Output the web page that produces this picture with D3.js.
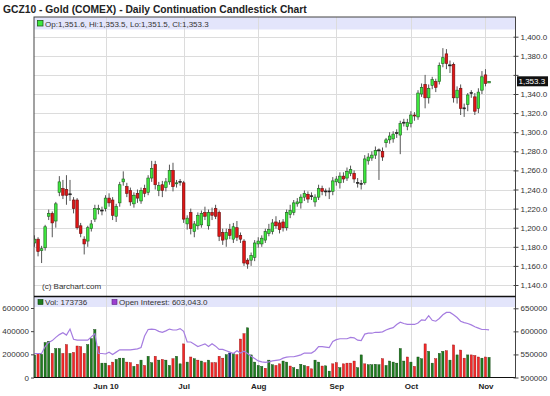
<!DOCTYPE html>
<html>
<head>
<meta charset="utf-8">
<script src="https://cdn.jsdelivr.net/npm/d3@7"></script>
<style>
  body { margin: 0; background: #fff; }
  svg { display: block; font-family: "Liberation Sans", Arial, sans-serif; }
</style>
</head>
<body>
<svg width="550" height="396"></svg>
<script>
// daily bars, May 3 .. Nov 2 2010 (index = trading day)
const opens = [1184,1188,1176,1179,1212,1215,1207,1237,1241,1240,
  1235,1229,1229,1202,1188,1186,1199,1209,1219,1218,
  1220,1231,1229,1212,1226,1248,1243,1239,1225,1236,
  1228,1241,1237,1252,1266,1239,1245,1242,1248,1260,
  1246,1248,1247,1204,1216,1196,1202,1203,1216,1202,
  1216,1220,1216,1195,1188,1198,1188,1200,1192,1186,
  1166,1166,1169,1183,1183,1187,1194,1196,1206,1205,
  1206,1200,1214,1216,1225,1226,1232,1235,1233,1227,
  1232,1241,1238,1238,1238,1248,1247,1254,1252,1257,
  1257,1247,1246,1247,1270,1273,1276,1281,1280,1289,
  1292,1293,1299,1297,1310,1306,1309,1318,1316,1340,
  1350,1336,1349,1353,1353,1372,1382,1370,1371,1336,
  1346,1325,1329,1341,1337,1325,1344,1360,1351.6];
const highs = [1192,1190,1181,1203,1219,1217,1227,1254,1250,1255,
  1250,1232,1231,1205,1191,1202,1208,1224,1224,1222,
  1234,1236,1232,1225,1248,1259,1247,1242,1237,1240,
  1242,1245,1255,1270,1270,1248,1249,1252,1266,1268,
  1250,1251,1249,1213,1220,1207,1216,1218,1222,1219,
  1221,1224,1218,1199,1199,1204,1205,1207,1195,1188,
  1168,1174,1187,1190,1192,1199,1204,1209,1212,1208,
  1209,1219,1224,1229,1231,1235,1239,1238,1237,1235,
  1245,1244,1241,1242,1253,1254,1258,1258,1263,1265,
  1260,1252,1250,1276,1278,1280,1285,1283,1284,1294,
  1300,1301,1303,1312,1314,1314,1322,1321,1344,1351,
  1360,1350,1358,1356,1373,1388,1387,1375,1373,1348,
  1350,1330,1341,1344,1341,1346,1364,1366,1353.5];
const lows = [1180,1170,1163,1176,1208,1190,1200,1233,1230,1224,
  1228,1215,1198,1190,1172,1180,1196,1206,1214,1213,
  1217,1222,1208,1206,1222,1244,1232,1223,1221,1226,
  1225,1232,1234,1248,1240,1233,1232,1238,1245,1238,
  1242,1244,1205,1198,1193,1190,1198,1200,1208,1198,
  1208,1209,1186,1182,1180,1188,1184,1186,1184,1160,
  1157,1160,1165,1179,1180,1184,1191,1193,1199,1194,
  1196,1197,1210,1213,1222,1220,1228,1226,1229,1222,
  1229,1234,1233,1230,1234,1244,1241,1247,1249,1254,
  1247,1242,1240,1245,1266,1270,1272,1250,1270,1284,
  1288,1289,1294,1277,1306,1302,1305,1312,1313,1337,
  1325,1330,1345,1342,1350,1368,1366,1362,1331,1330,
  1318,1316,1322,1336,1318,1320,1340,1348,1351.5];
const closes = [1188,1175,1178,1201,1215,1205,1225,1248,1234,1234,
  1235.5,1220,1200,1194,1183,1200,1204,1220,1220,1218.5,
  1231,1226,1213,1222,1245,1251,1236,1227,1234,1231,
  1239,1236,1252,1262,1245,1244,1239,1248,1260,1243,
  1247,1248.5,1209,1210,1199,1204,1213,1215,1212,1216,
  1213,1212,1191,1187,1195,1192,1201,1190,1188,1163,
  1162,1171,1184,1186,1189,1196,1198,1205,1202,1198,
  1200,1216,1218,1226,1227,1232,1236,1230,1233.5,1232,
  1241,1238,1238.5,1238.5,1249,1251,1254,1251,1259,1261,
  1251,1247.5,1246.5,1272,1274,1276,1281,1281.5,1274,1292,
  1296,1298,1299.5,1309,1310.5,1310,1318,1317,1341,1347,
  1336,1346,1355,1347,1370,1378,1372,1370.5,1336,1344,
  1325,1325.5,1339,1341.5,1322,1342,1358,1351,1353.3];

// volume and open interest, thousands of contracts
const volumesK = [195,206,200,302,313,208,250,250,208,284,
  208,217,272,267,208,284,336,414,267,124,
  124,104,133,156,167,167,133,128,96,114,
  150,104,183,128,183,150,156,150,104,162,
  183,118,290,133,177,162,150,142,128,150,
  128,128,183,167,197,211,205,197,332,378,
  429,195,133,104,96,80,150,110,104,118,
  142,133,99,85,71,114,104,96,75,150,
  133,99,101,55,118,128,85,118,124,124,
  142,85,195,118,110,110,114,110,162,104,
  142,133,124,250,142,177,133,96,177,162,
  290,226,124,162,208,226,231,150,281,195,
  237,167,195,195,190,177,167,177,173.736];
const volColors = ("grgggrggrr" + "grrrrgggrg" + "grrgggrrgr" + "grggrgrggr" +
  "ggrgrgrgrg" + "rrrrgbgrrr" + "gggggrgg" + "rrggrggggr" + "rggrggrrgr" +
  "rrrggrgggg" + "rggggggrgr" + "ggrggrggrg" + "rgrrgrrrgr" + "g").split("");
const openInterestK = [552,552,552,567,576,580,587,593,597,592,
  605,583,581,581,581,581,588,595,552,552,
  551,555,550,555,560,560,560,560,561,562,
  565,590,604,605,604,600,598,601,605,603,
  603,606,600,577,577,572,567,570,573,567,
  573,568,561,561,558,555,552,558,553,557,
  552,546,541,536,534,533,534,536,537,538,
  542,544,545,545,547,549,553,553,553,558,
  567,567,566,565,578,582,584,584,584,587,
  586,581,580,594,596,596,598,598,599,603,
  606,608,615,620,617,615,615,615,618,625,
  624,634,624,622,628,636,641,641,636,630,
  622,619,617,614,610,607,604,604,603.043];

const monthIdx = [20, 42, 63, 85, 106, 127];
const monthLabels = ["Jun 10", "Jul", "Aug", "Sep", "Oct", "Nov"];
const priceTicks = [1140,1160,1180,1200,1220,1240,1260,1280,1300,1320,1340,1360,1380,1400];
const volTicks = [0, 200, 400, 600];
const oiTicks = [500, 550, 600, 650];

const bars = opens.map((o, i) => ({ i, o, h: highs[i], l: lows[i], c: closes[i] }));

// layout
const left = 34, right = 515.5;
const top1 = 17, bot1 = 296.5, bot2 = 377.5;

const svg = d3.select('svg');

const x = d3.scaleLinear().domain([-0.14, 135.45]).range([left, right]);
const yP = d3.scaleLinear().domain([1140, 1400]).range([285, 36.7]);
const yV = d3.scaleLinear().domain([0, 600]).range([bot2, 308]);
const yOI = d3.scaleLinear().domain([500, 650]).range([bot2, 308.3]);

const defs = svg.append('defs');
defs.append('clipPath').attr('id', 'clipTop')
  .append('rect').attr('x', left).attr('y', top1).attr('width', right - left).attr('height', bot1 - top1);
defs.append('clipPath').attr('id', 'clipBot')
  .append('rect').attr('x', left).attr('y', bot1).attr('width', right - left).attr('height', bot2 - bot1);

// title
svg.append('text').attr('x', 3).attr('y', 13)
  .style('font-size', '10.3px').style('font-weight', 'bold').attr('fill', '#222')
  .text('GCZ10 - Gold (COMEX) - Daily Continuation Candlestick Chart');

// legend bands
svg.append('rect').attr('x', left).attr('y', top1).attr('width', right - left).attr('height', 12.5)
  .attr('fill', '#e3e5fb');
svg.append('rect').attr('x', left).attr('y', bot1 + 0.5).attr('width', right - left).attr('height', 10)
  .attr('fill', '#e3e5fb');

// grid
const grid = svg.append('g').attr('stroke', '#dcdcdc').attr('stroke-width', 1);
grid.selectAll('line.h').data(priceTicks).enter().append('line')
  .attr('x1', left).attr('x2', right)
  .attr('y1', d => Math.round(yP(d)) + 0.5).attr('y2', d => Math.round(yP(d)) + 0.5);
grid.selectAll('line.v').data(monthIdx).enter().append('line')
  .attr('x1', d => Math.round(x(d)) + 0.5).attr('x2', d => Math.round(x(d)) + 0.5)
  .attr('y1', top1).attr('y2', bot2);

// candles
const cg = svg.append('g').attr('clip-path', 'url(#clipTop)');
cg.selectAll('line.wick').data(bars).enter().append('line')
  .attr('x1', d => x(d.i)).attr('x2', d => x(d.i))
  .attr('y1', d => yP(d.h)).attr('y2', d => yP(d.l))
  .attr('stroke', '#555').attr('stroke-width', 1);
cg.selectAll('rect.body').data(bars).enter().append('rect')
  .attr('x', d => x(d.i) - 1.3)
  .attr('width', 2.6)
  .attr('y', d => yP(Math.max(d.o, d.c)))
  .attr('height', d => Math.max(1, Math.abs(yP(d.o) - yP(d.c))))
  .attr('fill', d => Math.abs(d.c - d.o) < 1 ? '#222' : (d.c > d.o ? '#3de83d' : '#e01515'))
  .attr('stroke', d => Math.abs(d.c - d.o) < 1 ? '#222' : (d.c > d.o ? '#1e5e1e' : '#6a0c0c'))
  .attr('stroke-width', 0.6);

// volume bars + open interest
const vg = svg.append('g').attr('clip-path', 'url(#clipBot)');
const volFill = { g: '#1f7d1f', r: '#f52828', b: '#1c2f8c' };
const volStroke = { g: '#0d3d0d', r: '#8a1212', b: '#0c1550' };
vg.selectAll('rect.vol').data(volumesK).enter().append('rect')
  .attr('x', (d, i) => x(i) - 1.1)
  .attr('width', 2.2)
  .attr('y', d => yV(d))
  .attr('height', d => bot2 - yV(d))
  .attr('fill', (d, i) => volFill[volColors[i]])
  .attr('stroke', (d, i) => volStroke[volColors[i]])
  .attr('stroke-width', 0.4);
vg.append('path').datum(openInterestK)
  .attr('d', d3.line().x((d, i) => x(i)).y(d => yOI(d)))
  .attr('fill', 'none').attr('stroke', '#a57ce0').attr('stroke-width', 1.2);

// frames
svg.append('rect').attr('x', left).attr('y', top1).attr('width', right - left).attr('height', bot2 - top1)
  .attr('fill', 'none').attr('stroke', '#444').attr('stroke-width', 1);
svg.append('line').attr('x1', left).attr('x2', right).attr('y1', bot1).attr('y2', bot1)
  .attr('stroke', '#111').attr('stroke-width', 1.6);
svg.append('line').attr('x1', left).attr('x2', right).attr('y1', bot2).attr('y2', bot2)
  .attr('stroke', '#111').attr('stroke-width', 1.2);

// axes
function styleAxis(g) {
  g.select('.domain').remove();
  g.selectAll('.tick line').attr('stroke', '#444');
  g.selectAll('.tick text').attr('fill', '#333').style('font-size', '8px')
    .style('font-family', '"Liberation Sans", Arial, sans-serif');
}
const lastClose = closes[closes.length - 1];

svg.append('g').attr('transform', `translate(${right},0)`)
  .call(d3.axisRight(yP).tickValues(priceTicks).tickFormat(d3.format(',.1f')).tickSize(3).tickPadding(2))
  .call(styleAxis)
  .call(g => g.selectAll('.tick line').attr('x1', -2))
  // the last-price box covers the label next to it
  .call(g => g.selectAll('.tick text').filter(d => Math.abs(yP(d) - yP(lastClose)) < 9).remove());

svg.append('g').attr('transform', `translate(${left},0)`)
  .call(d3.axisLeft(yV).tickValues(volTicks).tickFormat(d => d3.format('d')(d * 1000)).tickSize(3).tickPadding(2))
  .call(styleAxis);
svg.append('g').attr('transform', `translate(${right},0)`)
  .call(d3.axisRight(yOI).tickValues(oiTicks).tickFormat(d => d3.format('d')(d * 1000)).tickSize(3).tickPadding(2))
  .call(styleAxis)
  .call(g => g.selectAll('.tick line').attr('x1', -2));

svg.append('g').attr('transform', `translate(0,${bot2})`)
  .call(d3.axisBottom(x).tickValues(monthIdx).tickFormat((d, i) => monthLabels[i]).tickSize(0).tickPadding(6))
  .call(styleAxis)
  .call(g => g.selectAll('.tick text').style('font-weight', 'bold').attr('fill', '#222'));

// last price marker
svg.append('rect').attr('x', right + 1.5).attr('y', yP(lastClose) - 5).attr('width', 31).attr('height', 10)
  .attr('fill', '#111');
svg.append('text').attr('x', right + 3).attr('y', yP(lastClose) + 3)
  .style('font-size', '8px').attr('fill', '#fff').text(d3.format(',.1f')(lastClose));

// legends
svg.append('rect').attr('x', 37.5).attr('y', 20.5).attr('width', 5.5).attr('height', 5.5)
  .attr('fill', '#3de83d').attr('stroke', '#1e5e1e').attr('stroke-width', 0.8);
svg.append('text').attr('x', 45).attr('y', 26.5).style('font-size', '8px').attr('fill', '#333')
  .text(`Op:${d3.format(',.1f')(opens[128])}, Hi:${d3.format(',.1f')(highs[128])}, Lo:${d3.format(',.1f')(lows[128])}, Cl:${d3.format(',.1f')(lastClose)}`);

svg.append('rect').attr('x', 38).attr('y', 299.5).attr('width', 5).attr('height', 5)
  .attr('fill', '#1f7d1f').attr('stroke', '#0d3d0d').attr('stroke-width', 0.6);
svg.append('text').attr('x', 45).attr('y', 305.3).style('font-size', '8px').attr('fill', '#333')
  .text(`Vol: ${Math.round(volumesK[128] * 1000)}`);
svg.append('rect').attr('x', 112).attr('y', 299.5).attr('width', 5).attr('height', 5)
  .attr('fill', '#9b3fd0').attr('stroke', '#5a1f80').attr('stroke-width', 0.6);
svg.append('text').attr('x', 119).attr('y', 305.3).style('font-size', '8px').attr('fill', '#333')
  .text(`Open Interest: ${d3.format(',.1f')(openInterestK[128] * 1000)}`);

svg.append('text').attr('x', 42).attr('y', 289).style('font-size', '8px').attr('fill', '#333')
  .text('(c) Barchart.com');
</script>
</body>
</html>
